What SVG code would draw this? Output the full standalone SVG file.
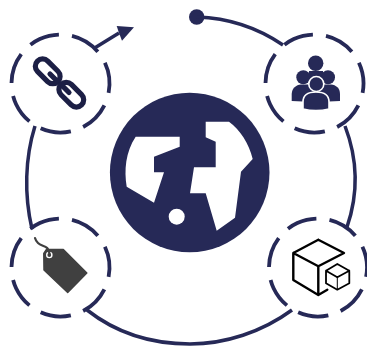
<svg xmlns="http://www.w3.org/2000/svg" width="367" height="347" viewBox="0 0 367 347">
<style>
.ring{fill:none;stroke:#262957;stroke-width:3.8;stroke-dasharray:.7 .3}
.conn{fill:none;stroke:#262957;stroke-width:3.5}
.navy{fill:#262957}
.link{fill:none;stroke:#1c1f45;stroke-width:5.2}
.box{fill:none;stroke:#000;stroke-width:2.4;stroke-linejoin:round;stroke-linecap:round}
</style>
<rect width="367" height="347" fill="#fff"/>
<g id="connectors">
<circle class="navy" cx="196.7" cy="17" r="7.7"/>
<path class="conn" d="M197,17C228,18 258,28 283,45"/>
<path class="conn" d="M345,126C358,160 358,195 347,227"/>
<path class="conn" d="M292,310C262,332 225,344 190,344C150,344 115,332 87,310"/>
<path class="conn" d="M35,126C25,158 24,195 32,229"/>
<path class="conn" d="M95,47.7L119,33"/>
<polygon class="navy" points="134,27.3 116.7,26 119,33 122,40.7"/>
</g>
<g id="globe">
<circle class="navy" cx="189.7" cy="172.5" r="79.8"/>
<path fill="#fff" d="M135.7,136.7H179.7V146.7L154,156.7V172.3H164L154,202.7L126.7,186.7C124,170 125.5,152 135.7,136.7Z"/>
<path fill="#fff" d="M205.7,121.7H229C240,130 249,143 252.7,159L241,171.7L235,217.7L216.7,230.7L205.7,193.3H190L194,167.3H215.7V141.7L205.7,137.3Z"/>
<circle cx="176.7" cy="216.7" r="8" fill="#fff"/>
</g>
<g id="node-link">
<circle class="ring" pathLength="7" cx="60.5" cy="83.5" r="49" transform="rotate(-25 60.5 83.5)"/>
<rect class="link" x="33.2" y="64" width="29" height="14.6" rx="7.3" transform="rotate(45 47.7 71.3)"/>
<rect class="link" x="56.8" y="87.4" width="29" height="14.6" rx="7.3" transform="rotate(45 71.3 94.7)"/>
<path class="link" stroke-linecap="round" d="M50,74L57,81M63,86.5L69,92.5"/>
</g>
<g id="node-people">
<circle class="ring" pathLength="7" cx="314.5" cy="83.5" r="49" transform="rotate(-25 314.5 83.5)"/>
<circle class="navy" cx="315.7" cy="63.3" r="7.7"/>
<rect class="navy" x="309" y="71" width="14" height="8"/>
<circle class="navy" cx="303.3" cy="77.3" r="7"/>
<circle class="navy" cx="328" cy="77.3" r="7"/>
<path class="navy" d="M291.7,101V94C292,88 296,85 301,84.5H314V102Z"/>
<path class="navy" d="M340,101V94C340,88 336,85 331,84.5H318V102Z"/>
<path class="navy" stroke="#fff" stroke-width="1.6" d="M303,109V102C303,95 308,92 316,92C324,92 329,95 329,102V109C321,111 311,111 303,109Z"/>
<circle class="navy" stroke="#fff" stroke-width="1.6" cx="316.3" cy="84" r="7.5"/>
</g>
<g id="node-tag">
<circle class="ring" pathLength="7" cx="60.5" cy="267.5" r="49" transform="rotate(-25 60.5 267.5)"/>
<path fill="#404040" stroke="#404040" stroke-width="1.5" stroke-linejoin="round" d="M43.8,253.5L46.5,249.5H63.3L86.8,273L67.7,292.5L44,270Z"/>
<circle cx="49.3" cy="255" r="2.6" fill="#404040" stroke="#fff" stroke-width="1.4"/>
<path fill="none" stroke="#404040" stroke-width="2.2" stroke-linecap="round" d="M49.5,254C49,245 42,247 38,243C36,241 35.5,240 35,238"/>
</g>
<g id="node-box">
<circle class="ring" pathLength="7" cx="318" cy="267.5" r="49" transform="rotate(-25 318 267.5)"/>
<path class="box" d="M318.3,239.7L293.3,253V280L318.3,295L327.3,289.7M318.3,239.7L344,253L318.3,266.3L293.3,253M318.3,266.3V295"/>
<path class="box" style="stroke-width:1.8" d="M337.3,264L326,270.7V283.3L337.3,289.7L349.3,283.3V270.7ZM326,270.7L337.3,277.3L349.3,270.7"/>
<path class="box" style="stroke-width:1" d="M337.3,277.3V289.7"/>
</g>
</svg>
